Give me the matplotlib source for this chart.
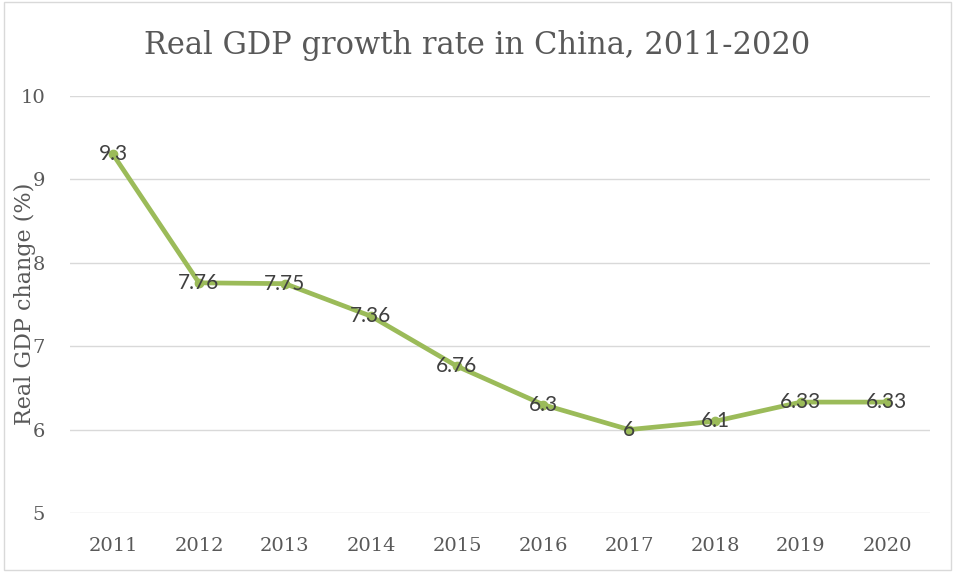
import matplotlib
matplotlib.use("Agg")
import matplotlib.pyplot as plt
from matplotlib.patches import Rectangle

years = ["2011", "2012", "2013", "2014", "2015", "2016", "2017", "2018", "2019", "2020"]
growth = [9.3, 7.76, 7.75, 7.36, 6.76, 6.3, 6.0, 6.1, 6.33, 6.33]
growth_labels = ["9.3", "7.76", "7.75", "7.36", "6.76", "6.3", "6", "6.1", "6.33", "6.33"]
y_ticks = [5, 6, 7, 8, 9, 10]

text_color = "#595959"
line_color = "#9BBB59"
serif = ["DejaVu Serif"]
sans = ["Lato", "DejaVu Sans"]

fig = plt.figure(figsize=(9.55, 5.72), dpi=100)
ax = fig.add_axes([0.0733, 0.1031, 0.9005, 0.7291])

x = list(range(len(years)))
ax.plot(x, growth, color=line_color, linewidth=3.4, marker="o", markersize=6,
        solid_capstyle="round", zorder=3)
for xi, yi, lab in zip(x, growth, growth_labels):
    ax.text(xi, yi, lab, ha="center", va="center", fontsize=15,
            family=sans, color="#404040", zorder=4)

ax.set_xlim(-0.5, len(years) - 0.5)
ax.set_ylim(5, 10)
ax.set_yticks(y_ticks)
ax.set_xticks(x)
ax.set_xticklabels(years)
ax.yaxis.grid(True, color="#D9D9D9", linewidth=1)
ax.set_axisbelow(True)
for s in ax.spines.values():
    s.set_visible(False)
ax.tick_params(length=0, colors=text_color, labelsize=14)
ax.tick_params(axis="y", pad=18)
ax.tick_params(axis="x", pad=17)
for lab in ax.get_xticklabels() + ax.get_yticklabels():
    lab.set_family(serif)

fig.text(0.5, 0.921, "Real GDP growth rate in China, 2011-2020", ha="center",
         va="center", fontsize=22, family=serif, color=text_color)
fig.text(0.026, 0.468, "Real GDP change (%)", rotation=90, ha="center",
         va="center", fontsize=16, family=serif, color=text_color)

fig.patches.append(Rectangle((0.004, 0.004), 0.992, 0.992, transform=fig.transFigure,
                             fill=False, edgecolor="#D9D9D9", linewidth=1))

fig.savefig("out.png", dpi=100, facecolor="white")
